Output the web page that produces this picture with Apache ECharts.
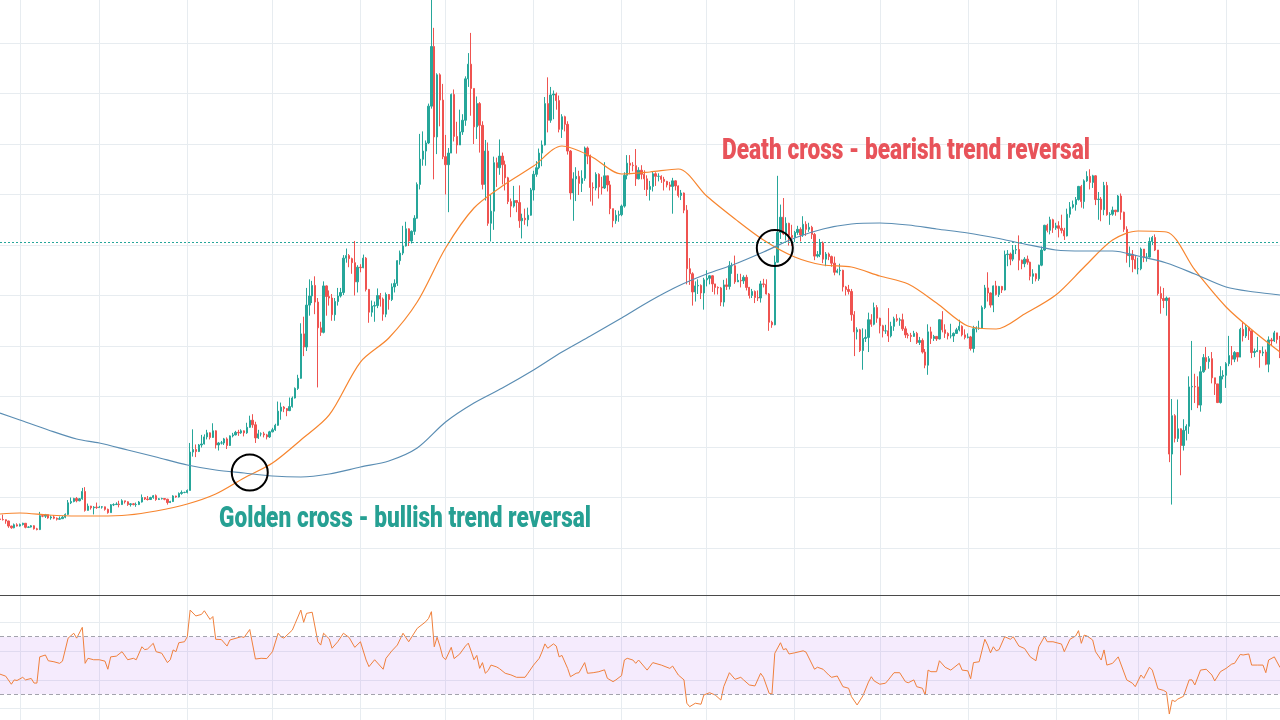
<!DOCTYPE html>
<html><head><meta charset="utf-8">
<script src="https://cdn.jsdelivr.net/npm/echarts@6/dist/echarts.min.js"></script>
<style>html,body{margin:0;padding:0;background:#fff;overflow:hidden;width:1280px;height:720px}#c{position:absolute;left:0;top:-10px;width:1280px;height:760px}</style>
</head><body><div id="c"></div>
<script>
// ---- daily candles, rows are [open, high, low, close] (USD), first day 2019-01-25 ----
const startDate = '2019-01-25';
const jan2019 = [[3575,3590,3535,3565],[3565,3660,3545,3560],[3560,3565,3480,3535],[3535,3540,3400,3435],[3435,3440,3380,3400],[3400,3485,3390,3460],[3460,3490,3425,3435]];
const feb2019 = [[3435,3485,3425,3465],[3465,3500,3445,3490],[3490,3495,3390,3410],[3410,3430,3395,3415],[3415,3455,3405,3440],[3440,3450,3365,3380],[3380,3400,3350,3365],[3365,3715,3355,3640],[3640,3660,3610,3630],[3630,3675,3595,3660],[3660,3665,3580,3595],[3595,3645,3560,3615],[3615,3650,3570,3590],[3590,3605,3545,3570],[3570,3625,3560,3580],[3580,3635,3575,3610],[3610,3685,3590,3665],[3665,3950,3655,3895],[3895,4000,3870,3920],[3920,3995,3905,3980],[3980,4010,3905,3935],[3935,3990,3925,3975],[3975,4190,3955,4120],[4120,4205,3720,3745],[3745,3880,3740,3830],[3830,3835,3760,3795],[3795,3830,3665,3810],[3810,3900,3775,3800]];
const mar2019 = [[3800,3835,3795,3810],[3810,3830,3780,3815],[3815,3820,3740,3765],[3765,3780,3680,3700],[3700,3870,3700,3855],[3855,3885,3830,3860],[3860,3905,3855,3870],[3870,3935,3805,3860],[3860,3965,3855,3935],[3935,3935,3880,3915],[3915,3925,3835,3860],[3860,3890,3820,3875],[3875,3890,3845,3860],[3860,3900,3815,3860],[3860,3930,3850,3910],[3910,4060,3900,4000],[4000,4005,3950,3970],[3970,4030,3940,3960],[3960,4015,3950,4000],[4000,4050,3975,4035],[4035,4060,3935,3960],[3960,3990,3950,3975],[3975,3995,3960,3980],[3980,3985,3945,3965],[3965,3975,3860,3900],[3900,3935,3890,3920],[3920,4045,3910,4030],[4030,4035,3995,4010],[4010,4100,4000,4080],[4080,4140,4055,4100],[4100,4115,4085,4100]];
const apr2019 = [[4100,4160,4080,4140],[4140,5080,4140,4900],[4900,5350,4810,4950],[4950,5050,4800,4910],[4910,5060,4900,5040],[5040,5240,4990,5060],[5060,5250,5050,5200],[5200,5340,5150,5280],[5280,5290,5150,5190],[5190,5470,5180,5320],[5320,5330,4970,5040],[5040,5100,4930,5080],[5080,5120,5050,5080],[5080,5180,5040,5160],[5160,5190,4960,5030],[5030,5230,5020,5220],[5220,5280,5190,5240],[5240,5320,5230,5290],[5290,5340,5220,5280],[5280,5350,5260,5320],[5320,5330,5210,5280],[5280,5480,5260,5390],[5390,5620,5380,5530],[5530,5650,5380,5440],[5440,5500,5080,5180],[5180,5340,5160,5260],[5260,5290,5210,5260],[5260,5300,5190,5240],[5240,5260,5150,5200],[5200,5320,5180,5300]];
const may2019 = [[5300,5380,5290,5340],[5340,5460,5320,5430],[5430,5900,5420,5710],[5710,5880,5540,5790],[5790,5810,5690,5760],[5760,5770,5610,5720],[5720,5980,5710,5800],[5800,6000,5780,5970],[5970,6180,5960,6160],[6160,6430,6130,6360],[6360,7450,6350,7240],[7240,7580,6800,6980],[6980,8150,6900,7810],[7810,8320,7600,7990],[7990,8290,7850,8200],[8200,8380,7630,7870],[7870,7950,6180,7360],[7360,7480,7200,7270],[7270,8280,7250,8190],[8190,8200,7600,7980],[7980,8100,7800,7950],[7950,8030,7500,7620],[7620,7950,7500,7880],[7880,8150,7800,7990],[7990,8150,7960,8060],[8060,8800,8010,8740],[8740,8930,8650,8790],[8790,8820,8560,8730],[8730,8750,8430,8650],[8650,9080,8000,8270],[8270,8600,8060,8560]];
const jun2019 = [[8560,8620,8460,8550],[8550,8810,8540,8740],[8740,8760,8080,8120],[8120,8130,7460,7670],[7670,7900,7580,7790],[7790,7880,7480,7800],[7800,8140,7750,8000],[8000,8050,7780,7930],[7930,7960,7500,7630],[7630,8060,7570,8020],[8020,8030,7720,7920],[7920,8240,7890,8170],[8170,8320,8060,8240],[8240,8700,8190,8690],[8690,8890,8610,8840],[8840,9380,8800,8980],[8980,9460,8970,9320],[9320,9330,8980,9080],[9080,9290,9030,9270],[9270,9590,9200,9530],[9530,10240,9520,10200],[10200,11200,10100,10700],[10700,11250,10570,10860],[10860,11070,10570,11020],[11020,11800,11000,11750],[11750,13880,11700,12930],[12930,13300,10300,11140],[11140,12400,10800,12370],[12370,12400,11350,11870],[11870,12190,10700,10750]];
const jul2019 = [[10750,11180,10000,10590],[10590,10920,9650,10820],[10820,12000,10820,11980],[11980,12080,11050,11150],[11150,11440,10810,10980],[10980,11680,10980,11240],[11240,11590,11180,11470],[11470,12340,11360,12290],[12290,12800,12130,12580],[12580,13200,11560,12100],[12100,12100,11000,11340],[11340,11940,11100,11800],[11800,11830,10830,11370],[11370,11450,10100,10200],[10200,11080,9880,10860],[10860,11030,9380,9430],[9430,9990,9070,9670],[9670,10750,9300,10630],[10630,10730,10150,10530],[10530,11090,10390,10760],[10760,10830,10200,10590],[10590,10670,10080,10330],[10330,10350,9810,9860],[9860,9920,9550,9770],[9770,10170,9740,9880],[9880,9880,9650,9840],[9840,10180,9340,9480],[9480,9620,9130,9530],[9530,9720,9400,9500],[9500,9740,9370,9590],[9590,10130,9580,10090]];
const aug2019 = [[10090,10470,9880,10400],[10400,10660,10350,10530],[10530,10910,10500,10820],[10820,11070,10560,10980],[10980,11930,10970,11800],[11800,12320,11230,11470],[11470,12130,11420,11970],[11970,12060,11490,11990],[11990,12020,11680,11860],[11860,11960,11230,11290],[11290,11590,11120,11540],[11540,11560,11250,11390],[11390,11450,10790,10860],[10860,10880,9900,10030],[10030,10440,9480,10310],[10310,10540,9870,10360],[10360,10470,9990,10220],[10220,10480,10050,10320],[10320,10950,10270,10920],[10920,10950,10600,10760],[10760,10790,9860,10140],[10140,10240,9780,10130],[10130,10440,10080,10400],[10400,10420,9920,10150],[10150,10350,10000,10130],[10130,10640,10110,10370],[10370,10370,10060,10190],[10190,10270,9610,9720],[9720,9720,9350,9480],[9480,9690,9420,9590],[9590,9680,9460,9600]];
const sep2019 = [[9600,9800,9570,9770],[9770,10440,9740,10380],[10380,10780,10300,10620],[10620,10780,10400,10580],[10580,10640,10460,10570],[10570,10900,10170,10310],[10310,10540,10300,10480],[10480,10580,10300,10400],[10400,10480,10090,10310],[10310,10380,9970,10100],[10100,10270,9880,10160],[10160,10450,10060,10410],[10410,10440,10170,10360],[10360,10420,10260,10360],[10360,10380,10230,10300],[10300,10350,10080,10260],[10260,10270,10140,10190],[10190,10250,10080,10160],[10160,10330,9620,10270],[10270,10280,10080,10170],[10170,10180,9940,9980],[9980,10090,9890,10030],[10030,10040,9630,9690],[9690,9790,8220,8530],[8530,8740,8210,8430],[8430,8460,7800,8070],[8070,8280,7880,8190],[8190,8320,8030,8200],[8200,8220,7930,8050],[8050,8350,7720,8310]];
const oct2019 = [[8310,8500,8180,8340],[8340,8400,8220,8390],[8390,8400,8070,8230],[8230,8230,8020,8160],[8160,8180,8020,8150],[8150,8170,7790,7870],[7870,8310,7780,8210],[8210,8340,8110,8180],[8180,8680,8120,8590],[8590,8650,8430,8590],[8590,8790,8230,8270],[8270,8430,8270,8300],[8300,8430,8160,8290],[8290,8400,8230,8360],[8360,8410,8100,8160],[8160,8170,7940,8000],[8000,8130,7950,8080],[8080,8100,7850,7960],[7960,8100,7890,7950],[7950,8290,7860,8230],[8230,8330,8160,8220],[8220,8320,8020,8030],[8030,8050,7300,7470],[7470,7500,7360,7420],[7420,8790,7410,8660],[8660,10370,8650,9250],[9250,9800,9120,9550],[9550,9930,9200,9220],[9220,9550,9090,9430],[9430,9440,8990,9190],[9190,9400,8980,9150]];
const nov2019 = [[9150,9280,9060,9250],[9250,9380,9200,9310],[9310,9350,9070,9200],[9200,9570,9160,9410],[9410,9470,9180,9310],[9310,9440,9260,9350],[9350,9380,9120,9210],[9210,9240,8700,8780],[8780,8880,8750,8810],[8810,9120,8760,9040],[9040,9070,8640,8720],[8720,8860,8580,8820],[8820,8850,8700,8770],[8770,8790,8570,8640],[8640,8770,8400,8460],[8460,8530,8440,8490],[8490,8630,8400,8500],[8500,8510,8080,8170],[8170,8190,8000,8120],[8120,8210,8020,8080],[8080,8130,7500,7620],[7620,7690,6800,7280],[7280,7370,7130,7320],[7320,7340,6880,6910],[6910,7350,6530,7150],[7150,7330,7080,7170],[7170,7660,6880,7520],[7520,7630,7380,7430],[7430,7860,7410,7760],[7760,7810,7460,7550]];
const dec2019 = [[7550,7560,7250,7400],[7400,7420,7170,7300],[7300,7420,7240,7300],[7300,7750,7080,7200],[7200,7480,7170,7390],[7390,7580,7300,7540],[7540,7630,7480,7510],[7510,7560,7400,7520],[7520,7640,7300,7340],[7340,7390,7160,7220],[7220,7260,7150,7210],[7210,7260,7080,7190],[7190,7300,7180,7250],[7250,7280,7040,7070],[7070,7180,7020,7110],[7110,7150,6850,6880],[6880,6940,6560,6620],[6620,7430,6430,7280],[7280,7380,7040,7150],[7150,7220,7100,7190],[7190,7190,7100,7140],[7140,7530,7130,7520],[7520,7690,7270,7320],[7320,7430,7160,7250],[7250,7270,7130,7200],[7200,7440,7150,7200],[7200,7270,7080,7250],[7250,7360,7240,7320],[7320,7520,7290,7390],[7390,7410,7190,7220],[7220,7330,7130,7170]];
const jan2020 = [[7170,7250,7150,7180],[7180,7200,6910,6950],[6950,7400,6870,7340],[7340,7390,7270,7350],[7350,7500,7320,7350],[7350,7800,7350,7760],[7760,8210,7730,8150],[8150,8460,7880,8050],[8050,8060,7760,7810],[7810,8200,7670,8190],[8190,8290,8000,8020],[8020,8190,7970,8180],[8180,8190,8050,8110],[8110,8890,8100,8810],[8810,8900,8580,8820],[8820,8850,8600,8720],[8720,9000,8680,8900],[8900,9000,8820,8910],[8910,9190,8500,8700],[8700,8710,8520,8630],[8630,8760,8560,8720],[8720,8790,8610,8660],[8660,8670,8300,8380],[8380,8520,8230,8430],[8430,8440,8280,8330],[8330,8610,8290,8600],[8600,8970,8580,8900],[8900,9400,8880,9390],[9390,9420,9250,9290],[9290,9560,9210,9500],[9500,9520,9240,9340]];
const feb2020 = [[9340,9440,9300,9380],[9380,9470,9150,9330],[9330,9600,9230,9290],[9290,9340,9100,9180],[9180,9720,9170,9610],[9610,9850,9540,9750],[9750,9880,9720,9800],[9800,9950,9680,9900],[9900,10170,9880,10160],[10160,10190,9740,9860],[9860,10300,9720,10270],[10270,10460,10250,10360],[10360,10500,10100,10240],[10240,10390,10130,10370],[10370,10380,9790,9900],[9900,10050,9500,9910],[9910,9950,9470,9700],[9700,10250,9590,10180],[10180,10250,9580,9600],[9600,9650,9400,9610],[9610,9760,9580,9690],[9690,9690,9580,9660],[9660,9990,9650,9970],[9970,10020,9500,9650],[9650,9660,9260,9310],[9310,9370,8650,8790],[8790,8970,8560,8810],[8810,8900,8460,8710],[8710,8790,8520,8530]];
const mar2020 = [[8530,8750,8420,8530],[8530,8950,8500,8920],[8920,8920,8660,8760],[8760,8840,8670,8760],[8760,9150,8750,9070],[9070,9180,9000,9150],[9150,9210,8880,8900],[8900,8900,8000,8040],[8040,8180,7640,7940],[7940,8150,7750,7900],[7900,7980,7600,7950],[7950,7960,4700,4860],[4860,5950,3860,5620],[5620,5650,5090,5170],[5170,5940,5100,5360],[5360,5370,4440,5030],[5030,5550,4930,5330],[5330,5450,5130,5410],[5410,6400,5260,6190],[6190,7100,5730,6200],[6200,6450,5870,6190],[6190,6400,5770,5830],[5830,6600,5700,6490],[6490,6840,6470,6770],[6770,6980,6520,6690],[6690,6800,6550,6750],[6750,6880,6260,6370],[6370,6370,6030,6250],[6250,6250,5870,5880],[5880,6600,5860,6400],[6400,6520,6340,6420]];
const apr2020 = [[6420,6680,6170,6650],[6650,7200,6600,6810],[6810,7000,6620,6740],[6740,6900,6680,6870],[6870,6880,6690,6780],[6780,7360,6780,7330],[7330,7470,7090,7200],[7200,7420,7160,7370],[7370,7380,7120,7300],[7300,7300,6760,6870],[6870,6950,6780,6890],[6890,7180,6880,6910],[6910,6920,6570,6860],[6860,6990,6800,6880],[6880,6930,6620,6640],[6640,7190,6480,7120],[7120,7160,7000,7100],[7100,7300,7080,7260],[7260,7260,7050,7130],[7130,7200,6760,6850]];

// ---- moving averages: [day index, price] ----
const ma50Samples = [[0,3673],[7,3693],[17,3653],[27,3634],[35,3634],[45,3653],[55,3733],[66,3871],[76,4069],[86,4386],[96,4683],[106,5139],[116,5634],[127,6683],[137,7158],[147,7871],[157,8941],[167,9733],[177,10168],[188,10564],[198,10960],[208,10762],[219,10406],[229,10446],[239,10505],[249,9970],[259,9515],[269,9099],[280,8762],[290,8604],[300,8564],[310,8386],[320,8228],[330,7851],[341,7396],[351,7337],[361,7634],[372,8010],[382,8564],[392,9099],[401,9277],[411,9257],[421,8505],[432,7772],[442,7277],[451,6881]];
const ma200Samples = [[0,5673],[7,5535],[17,5337],[27,5158],[35,5079],[45,4941],[55,4802],[66,4644],[76,4545],[86,4485],[96,4426],[106,4406],[116,4465],[127,4604],[137,4723],[147,4980],[157,5495],[167,5871],[177,6168],[188,6525],[198,6881],[208,7198],[219,7554],[229,7891],[239,8188],[249,8426],[259,8624],[269,8861],[280,9139],[290,9317],[300,9416],[310,9436],[320,9396],[330,9317],[341,9238],[351,9139],[361,9020],[372,8901],[382,8881],[392,8881],[401,8782],[411,8644],[421,8426],[432,8168],[442,8069],[451,8010]];

// ---- RSI(14): [day index, value] ----
const rsiSamples = [[0,44],[2,42.6],[4,37],[5,40],[6,39.6],[8,41.8],[9,40],[11,41],[12,37.8],[13,37.8],[14,56],[16,57.3],[17,53.3],[19,52.6],[21,51.5],[22,53],[24,69],[26,72.4],[27,69],[29,76.5],[30,51.5],[31,55],[33,54],[35,54],[37,53],[38,47.4],[39,56],[41,56.5],[43,59.6],[45,54],[47,55],[48,54],[50,63],[51,61],[52,61.5],[54,65.4],[55,59.6],[57,58.5],[59,52],[60,54],[61,60.8],[62,59.6],[63,65.8],[65,66.5],[66,70],[67,88.5],[69,84.4],[71,85.5],[72,88],[74,82],[75,84],[76,68.2],[78,68],[80,63.5],[81,67.7],[85,70],[86,69.5],[88,75],[90,54.5],[92,55],[94,54.8],[96,59.6],[98,72.4],[99,70],[100,69],[103,74.6],[104,79.2],[106,88.5],[107,80],[108,86.2],[110,87],[112,66.5],[113,64.2],[114,72.4],[116,68.5],[117,62],[119,66.5],[121,72.4],[123,69.5],[125,62.6],[127,66.5],[129,53.8],[130,49.2],[132,54],[135,47.4],[136,55],[138,60],[140,64.2],[142,72.4],[144,66.5],[147,75.8],[150,80.4],[151,82.7],[152,87.4],[153,63],[154,69.6],[155,63.5],[156,56],[157,54],[159,62.6],[160,54.8],[162,58],[164,63.5],[165,65.5],[166,60],[167,54],[168,57],[169,48],[170,52],[171,44.6],[172,46.5],[173,50.3],[175,49],[176,47.8],[178,44.6],[180,43.5],[182,41.8],[185,41.8],[186,44.6],[188,50.3],[190,55],[191,59.6],[192,65],[193,62],[195,65],[196,63.5],[197,56],[198,57],[200,48],[201,42.2],[203,44.6],[204,45],[206,52],[207,44.6],[209,45],[211,45.7],[213,47],[214,41.1],[216,38.8],[217,40],[219,43],[220,53.8],[221,55],[223,53.8],[224,51.5],[225,53.8],[228,46.8],[230,52],[233,50.3],[236,48],[237,49.6],[239,43.4],[241,40],[242,23.8],[243,21.4],[245,23.8],[247,23.1],[248,29.5],[250,31.1],[252,29.5],[254,26],[255,35.3],[257,45],[259,40.4],[261,41.8],[262,40],[264,36.5],[266,35.8],[268,44.6],[269,41.8],[271,30.7],[272,30.2],[273,58.5],[275,65.8],[276,61],[277,61.7],[278,58],[280,58.8],[283,60.2],[284,59.3],[287,47.4],[288,48.8],[290,47.4],[292,43.4],[293,41.8],[295,42.7],[297,35.3],[299,34.2],[300,28.4],[302,22.6],[304,28.8],[306,38.5],[307,42.2],[308,39.3],[310,37],[312,37.7],[313,40],[315,45],[317,45],[319,38.8],[320,38],[322,40],[323,35.3],[325,34.2],[326,29.5],[327,46.8],[328,45.7],[330,45.7],[331,53.3],[333,48.8],[335,46.8],[338,51.5],[339,46.8],[341,46.3],[342,40.8],[343,52],[345,52.6],[347,68.2],[348,64.2],[349,58.8],[350,63],[351,60.2],[352,61],[354,70],[356,68.2],[357,70],[359,63.5],[361,61.8],[363,56],[365,53.3],[366,63],[368,70],[369,66.5],[371,66.5],[374,64.9],[375,59.6],[377,68.2],[379,70.5],[380,74.2],[381,65.4],[382,71.1],[383,70.5],[385,67.7],[386,59.6],[388,53.8],[389,60.8],[390,50.3],[392,51.5],[394,56],[397,40],[399,37.7],[400,35.3],[402,43.4],[403,41.1],[405,48.8],[406,46.8],[408,33.8],[410,32.7],[411,31.5],[412,16.3],[413,26],[414,25],[415,26.7],[417,28.6],[419,40],[420,40],[421,36.5],[423,46.8],[425,47.4],[427,43.4],[428,39.3],[430,45.7],[432,48],[434,51],[435,51.5],[437,57.7],[438,57.3],[440,58],[441,50.3],[443,50.3],[445,50.3],[446,45],[447,53.8],[449,56],[451,48.6]];

const lastPrice = 9059;                  // dotted last-price line
const rsiBand = [30, 70];
const crossPoints = [{day: 88, price: 4495}, {day: 273, price: 8941}];
const annotations = [
  {text: 'Golden cross - bullish trend reversal', color: '#26a093', x: 219, y: 520, width: 372},
  {text: 'Death cross - bearish trend reversal', color: '#e8535a', x: 722, y: 152, width: 368}
];

// ---- build ----
const OFF = 10; // the chart canvas starts 10px above the visible page
const candles = [].concat(jan2019, feb2019, mar2019, apr2019, may2019, jun2019, jul2019, aug2019, sep2019, oct2019, nov2019, dec2019, jan2020, feb2020, mar2020, apr2020);
const dates = [];
{
  const t0 = Date.parse(startDate + 'T00:00:00Z');
  for (let i = 0; i < candles.length; i++) dates.push(new Date(t0 + i * 86400000).toISOString().slice(0, 10));
}
const candleData = candles.map(r => [r[0], r[3], r[2], r[1]]);
const toCat = arr => arr.map(([d, v]) => [dates[d], v]);

const UP = '#26a69a', DOWN = '#ef5350', GRID = '#e7ecf0';
const monthSplit = (i, v) => typeof v === 'string' && v.slice(8) === '01';
const FONT = '900 29px Roboto';
const mctx = document.createElement('canvas').getContext('2d');
mctx.font = FONT;

const xBase = {
  type: 'category', data: dates, boundaryGap: false,
  axisLine: {show: false}, axisTick: {show: false}, axisLabel: {show: false},
  splitLine: {show: true, interval: monthSplit, lineStyle: {color: GRID, width: 1}}
};
const yHidden = {axisLine: {show: false}, axisTick: {show: false}, axisLabel: {show: false}};

const chart = echarts.init(document.getElementById('c'), null, {renderer: 'canvas', width: 1280, height: 760});
chart.setOption({
  animation: false,
  backgroundColor: '#ffffff',
  grid: [
    {left: 0, right: 0, top: OFF - 7.5, height: 606, outerBoundsMode: 'none'},
    {left: 0, right: 0, top: OFF + 593.5, height: 144, outerBoundsMode: 'none'}
  ],
  xAxis: [Object.assign({gridIndex: 0}, xBase), Object.assign({gridIndex: 1}, xBase)],
  yAxis: [
    Object.assign({type: 'value', gridIndex: 0, min: 2000, max: 14000, interval: 1000,
      splitLine: {show: true, showMinLine: false, showMaxLine: false, lineStyle: {color: GRID}}}, yHidden),
    Object.assign({type: 'value', gridIndex: 1, min: 0, max: 100, interval: 20,
      splitLine: {show: true, showMinLine: false, showMaxLine: false, lineStyle: {color: GRID}}}, yHidden)
  ],
  series: [
    {
      type: 'candlestick', xAxisIndex: 0, yAxisIndex: 0, data: candleData, barWidth: 1.8,
      itemStyle: {color: UP, color0: DOWN, borderColor: UP, borderColor0: DOWN, borderWidth: 1},
      markLine: {silent: true, symbol: ['none', 'none'], label: {show: false}, animation: false,
        lineStyle: {color: UP, type: [2, 2], width: 1}, data: [{yAxis: lastPrice}]},
      markPoint: {silent: true, symbol: 'circle', symbolSize: 36, label: {show: false}, animation: false,
        itemStyle: {color: 'rgba(0,0,0,0)', borderColor: '#000', borderWidth: 2},
        data: crossPoints.map(p => ({coord: [dates[p.day], p.price]}))}
    },
    {type: 'line', xAxisIndex: 0, yAxisIndex: 0, data: toCat(ma50Samples), smooth: 0.3, showSymbol: false,
      lineStyle: {color: '#f7852e', width: 1.2}, z: 3},
    {type: 'line', xAxisIndex: 0, yAxisIndex: 0, data: toCat(ma200Samples), smooth: 0.3, showSymbol: false,
      lineStyle: {color: '#5a8db3', width: 1.2}, z: 3},
    {
      type: 'line', xAxisIndex: 1, yAxisIndex: 1, data: toCat(rsiSamples), showSymbol: false,
      lineStyle: {color: '#f0803c', width: 1}, z: 4,
      markArea: {silent: true, itemStyle: {color: 'rgba(185,120,240,0.15)'}, data: [[{yAxis: rsiBand[0]}, {yAxis: rsiBand[1]}]]},
      markLine: {silent: true, symbol: ['none', 'none'], label: {show: false}, animation: false,
        lineStyle: {color: '#a3a3ad', type: [4, 3], width: 1}, data: [{yAxis: rsiBand[1]}, {yAxis: rsiBand[0]}]}
    }
  ],
  graphic: [
    {type: 'rect', z: 99, shape: {x: 0, y: OFF + 595, width: 1280, height: 1}, style: {fill: '#4a4a4a'}}
  ].concat(annotations.map(a => ({
    type: 'text', z: 100, x: a.x, y: a.y + OFF, scaleX: a.width / mctx.measureText(a.text).width,
    style: {text: a.text, font: FONT, fill: a.color, align: 'left', verticalAlign: 'middle'}
  })))
});
</script></body></html>
